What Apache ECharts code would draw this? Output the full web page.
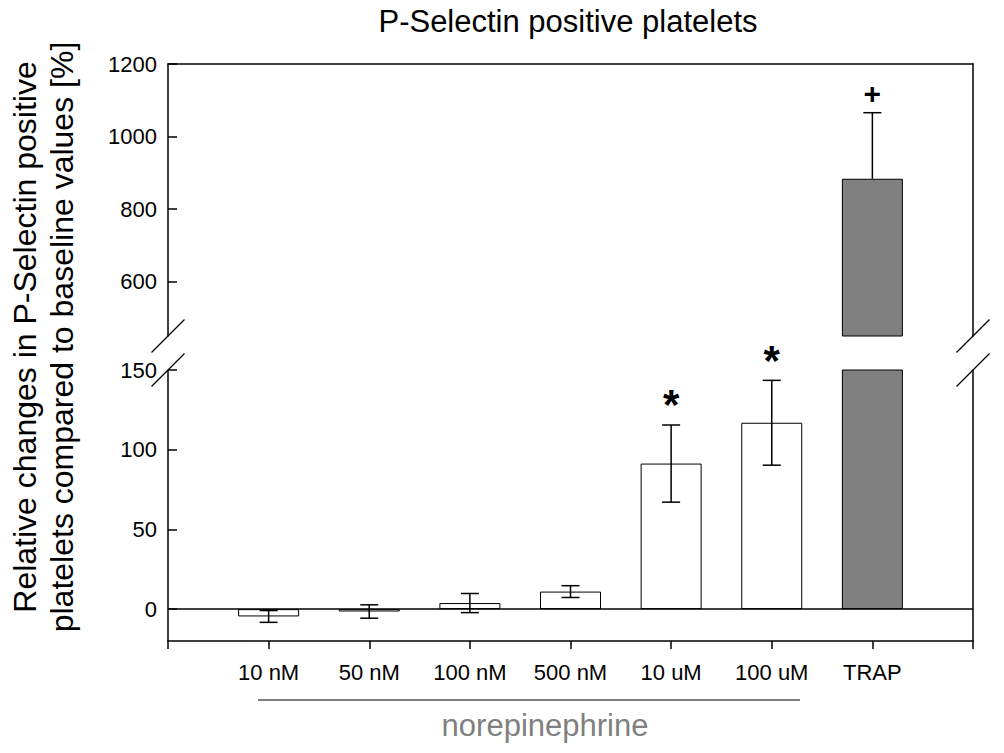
<!DOCTYPE html>
<html>
<head>
<meta charset="utf-8">
<script src="https://cdn.jsdelivr.net/npm/echarts@6/dist/echarts.min.js"></script>
<style>
  html, body { margin: 0; padding: 0; background: #fff; }
  #chart { width: 1004px; height: 753px; }
</style>
</head>
<body>
<div id="chart"></div>
<script>
// data
var categories = ['10 nM', '50 nM', '100 nM', '500 nM', '10 uM', '100 uM', 'TRAP'];
var means  = [-4.6, -1.5, 3.8, 11.0, 91.3, 116.9, 883.6];
var errUp  = [3.7, 4.2, 6.0, 3.7, 24.2, 26.6, 182.1];
var errLow = [3.7, 4.2, 6.0, 3.7, 24.2, 26.6, 0];
var marks  = ['', '', '', '', '*', '*', '+'];
var upperTicks = [600, 800, 1000, 1200];
var lowerTicks = [0, 50, 100, 150];
var upperRange = [450, 1200];
var lowerRange = [-20, 150];

var FONT = "'Liberation Sans', Arial, Helvetica, sans-serif";
var GRID_L = 168, GRID_R = 973, BREAK_TOP = 336, BREAK_BOT = 370;

// padded category axis: one empty slot at each end
var axisCats = [''].concat(categories, ['']);
var barData = ['-'].concat(means, ['-']);

var errTop = [], errBottom = [];
for (var i = 0; i < categories.length; i++) {
  var item = [i + 1, means[i] - errLow[i], means[i] + errUp[i], i];
  if (means[i] + errUp[i] <= lowerRange[1]) errBottom.push(item);
  else errTop.push(item);
}

function renderErr(params, api) {
  var x = api.value(0), lo = api.value(1), hi = api.value(2), idx = api.value(3);
  var pTop = api.coord([x, hi]);
  var pLow = api.coord([x, lo]);
  var cap = 9;
  var style = { stroke: '#000', lineWidth: 1.5 };
  var children = [
    { type: 'line', shape: { x1: pTop[0], y1: pTop[1], x2: pLow[0], y2: pLow[1] }, style: style },
    { type: 'line', shape: { x1: pTop[0] - cap, y1: pTop[1], x2: pTop[0] + cap, y2: pTop[1] }, style: style }
  ];
  if (errLow[idx] > 0) {
    children.push({ type: 'line', shape: { x1: pLow[0] - cap, y1: pLow[1], x2: pLow[0] + cap, y2: pLow[1] }, style: style });
  }
  if (marks[idx] === '*') {
    children.push({
      type: 'text',
      style: {
        text: '*', x: pTop[0], y: pTop[1] + 1,
        textAlign: 'center', textVerticalAlign: 'bottom',
        font: 'bold 42px ' + FONT, fill: '#000'
      }
    });
  } else if (marks[idx]) {
    children.push({
      type: 'text',
      style: {
        text: marks[idx], x: pTop[0], y: pTop[1] - 4,
        textAlign: 'center', textVerticalAlign: 'bottom',
        font: 'bold 30px ' + FONT, fill: '#000'
      }
    });
  }
  return { type: 'group', children: children };
}

var axisLine = { show: true, onZero: false, lineStyle: { color: '#000', width: 1.5 } };
var plain = function (v) { return String(v); };

function breakSlash(x, y) {
  return { type: 'line', shape: { x1: x - 16.5, y1: y + 16.5, x2: x + 16.5, y2: y - 16.5 },
           style: { stroke: '#000', lineWidth: 1.3 }, silent: true };
}

var chart = echarts.init(document.getElementById('chart'), null, { renderer: 'svg' });

var option = {
  backgroundColor: '#fff',
  animation: false,
  title: {
    text: 'P-Selectin positive platelets',
    left: 568, top: 6, padding: 0,
    textAlign: 'center',
    textStyle: { fontFamily: FONT, fontSize: 31, fontWeight: 'normal', color: '#000' }
  },
  grid: [
    { left: GRID_L, right: 1004 - GRID_R, top: 64, height: BREAK_TOP - 64 },
    { left: GRID_L, right: 1004 - GRID_R, top: BREAK_BOT, height: 641 - BREAK_BOT }
  ],
  xAxis: [
    { gridIndex: 0, type: 'category', data: axisCats, boundaryGap: false, position: 'top',
      axisLine: axisLine, axisTick: { show: false }, axisLabel: { show: false }, splitLine: { show: false } },
    { gridIndex: 1, type: 'category', data: axisCats, boundaryGap: false, position: 'bottom',
      axisLine: axisLine,
      axisTick: { show: true, interval: 0, length: 8, lineStyle: { color: '#000', width: 1.5 } },
      axisLabel: { interval: 0, margin: 20, fontFamily: FONT, fontSize: 22, color: '#000' },
      splitLine: { show: false } }
  ],
  yAxis: [
    { gridIndex: 0, type: 'value', min: upperRange[0], max: upperRange[1], position: 'left',
      axisLine: axisLine,
      axisTick: { show: true, inside: true, length: 9, customValues: upperTicks, lineStyle: { color: '#000', width: 1.5 } },
      axisLabel: { customValues: upperTicks, formatter: plain, margin: 11, fontFamily: FONT, fontSize: 22, color: '#000' },
      splitLine: { show: false } },
    { gridIndex: 0, type: 'value', min: upperRange[0], max: upperRange[1], position: 'right',
      axisLine: axisLine, axisTick: { show: false }, axisLabel: { show: false }, splitLine: { show: false } },
    { gridIndex: 1, type: 'value', min: lowerRange[0], max: lowerRange[1], position: 'left',
      axisLine: axisLine,
      axisTick: { show: true, inside: true, length: 9, customValues: lowerTicks, lineStyle: { color: '#000', width: 1.5 } },
      axisLabel: { customValues: lowerTicks, formatter: plain, margin: 11, fontFamily: FONT, fontSize: 22, color: '#000' },
      splitLine: { show: false } },
    { gridIndex: 1, type: 'value', min: lowerRange[0], max: lowerRange[1], position: 'right',
      axisLine: axisLine, axisTick: { show: false }, axisLabel: { show: false }, splitLine: { show: false } }
  ],
  series: [
    {
      type: 'bar', xAxisIndex: 0, yAxisIndex: 0, data: barData, barWidth: 61, clip: true,
      itemStyle: {
        color: function (p) { return p.name === 'TRAP' ? '#808080' : '#fff'; },
        borderColor: '#000', borderWidth: 1
      }
    },
    {
      type: 'bar', xAxisIndex: 1, yAxisIndex: 2, data: barData, barWidth: 61, clip: true,
      itemStyle: {
        color: function (p) { return p.name === 'TRAP' ? '#808080' : '#fff'; },
        borderColor: '#000', borderWidth: 1
      },
      markLine: {
        silent: true, symbol: 'none', label: { show: false },
        lineStyle: { color: '#000', width: 1.5, type: 'solid' },
        data: [{ yAxis: 0 }]
      }
    },
    { type: 'custom', xAxisIndex: 0, yAxisIndex: 0, data: errTop, renderItem: renderErr, clip: false, z: 5 },
    { type: 'custom', xAxisIndex: 1, yAxisIndex: 2, data: errBottom, renderItem: renderErr, clip: false, z: 5 }
  ],
  graphic: [
    breakSlash(GRID_L, BREAK_TOP), breakSlash(GRID_L, BREAK_BOT),
    breakSlash(GRID_R, BREAK_TOP), breakSlash(GRID_R, BREAK_BOT),
    {
      type: 'text', x: 43.5, y: 337, rotation: Math.PI / 2,
      style: {
        text: 'Relative changes in P-Selectin positive\nplatelets compared to baseline values [%]',
        textAlign: 'center', textVerticalAlign: 'middle',
        font: '32px ' + FONT, lineHeight: 37, fill: '#000'
      }
    },
    { type: 'line', shape: { x1: 258, y1: 700, x2: 800, y2: 700 }, style: { stroke: '#555', lineWidth: 1.5 } },
    {
      type: 'text', x: 545, y: 725,
      style: { text: 'norepinephrine', textAlign: 'center', textVerticalAlign: 'middle',
               font: '31px ' + FONT, fill: '#808080' }
    }
  ]
};

chart.setOption(option);
</script>
</body>
</html>
